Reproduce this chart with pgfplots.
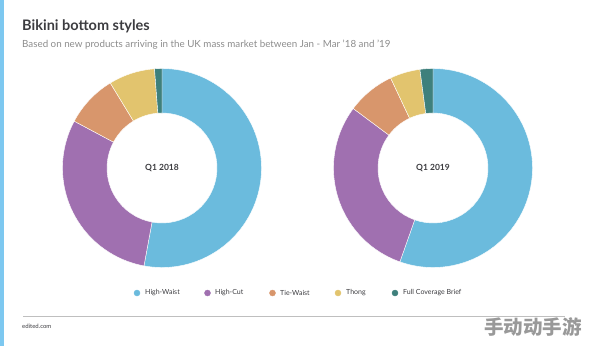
\documentclass[border=0pt]{standalone}
\usepackage{pgfplots}
\pgfplotsset{compat=1.18}
\usepackage{pgfplotstable}
\usepackage{fontspec}
\setmainfont{Lato}
\newfontfamily\cjk{Noto Sans CJK SC}
\definecolor{c0}{RGB}{107,187,221}
\definecolor{c1}{RGB}{160,112,176}
\definecolor{c2}{RGB}{216,150,108}
\definecolor{c3}{RGB}{226,196,110}
\definecolor{c4}{RGB}{62,128,124}
\definecolor{titlegray}{RGB}{60,60,64}
\definecolor{subgray}{RGB}{140,140,140}
\definecolor{sidebar}{RGB}{125,200,240}
\tikzset{legtxt/.style={anchor=west, font=\fontsize{7}{8}\selectfont, text=titlegray, inner sep=0pt}}

% cumulative percentage shares, clockwise from 12 o'clock
\pgfplotstableread{
x y st en c
162 168 0.0 52.9 0
162 168 52.9 82.8 1
162 168 82.8 91.3 2
162 168 91.3 98.8 3
162 168 98.8 100.0 4
}\dataA
\pgfplotstableread{
x y st en c
433 168 0.0 55.4 0
433 168 55.4 85.2 1
433 168 85.2 93.0 2
433 168 93.0 97.9 3
433 168 97.9 100.0 4
}\dataB
% legend dot positions
\pgfplotstableread{
x y c
137 293 0
207.5 293 1
272.5 293 2
338 293 3
395 293 4
}\legdots

\begin{document}
\begin{tikzpicture}
\begin{axis}[
  at={(0,0)}, anchor=south west,
  scale only axis, width=594pt, height=346pt,
  xmin=0, xmax=594, ymin=0, ymax=346, y dir=reverse,
  hide axis, clip=false,
  donut/.style={scatter, only marks, mark=*, mark size=0pt,
    mark options={draw=none,fill=none},
    visualization depends on={\thisrow{st} \as \st},
    visualization depends on={\thisrow{en} \as \en},
    visualization depends on={\thisrow{c} \as \cc},
    scatter/@pre marker code/.code={%
      \pgfmathtruncatemacro\ci{\cc}%
      \fill[c\ci, draw=white, line width=0.4pt] (90-\st*3.6:99.5pt) arc[start angle=90-\st*3.6, end angle=90-\en*3.6, radius=99.5pt]
        -- (90-\en*3.6:55pt) arc[start angle=90-\en*3.6, end angle=90-\st*3.6, radius=55pt] -- cycle;},
    scatter/@post marker code/.code={}},
]
\addplot[donut] table[x=x,y=y] {\dataA};
\addplot[donut] table[x=x,y=y] {\dataB};

\addplot[scatter, only marks, mark=*, mark size=0pt, mark options={draw=none,fill=none},
  visualization depends on={\thisrow{c} \as \cc},
  scatter/@pre marker code/.code={\pgfmathtruncatemacro\ci{\cc}\fill[c\ci] (0,0) circle (3pt);},
  scatter/@post marker code/.code={}] table[x=x,y=y] {\legdots};
\node[legtxt] at (axis cs:145,293) {High-Waist};
\node[legtxt] at (axis cs:215,293) {High-Cut};
\node[legtxt] at (axis cs:280,293) {Tie-Waist};
\node[legtxt] at (axis cs:346,293) {Thong};
\node[legtxt] at (axis cs:403,293) {Full Coverage Brief};

\node[font=\bfseries\fontsize{8.5}{10}\selectfont, text=titlegray] at (axis cs:162,168) {Q1 2018};
\node[font=\bfseries\fontsize{8.5}{10}\selectfont, text=titlegray] at (axis cs:433,168) {Q1 2019};

\node[anchor=west, font=\bfseries\fontsize{14.5}{16}\selectfont, text=titlegray, inner sep=0pt] at (axis cs:22,26) {Bikini bottom styles};
\node[anchor=west, font=\fontsize{9.8}{11}\selectfont, text=subgray, inner sep=0pt] at (axis cs:22,45) {Based on new products arriving in the UK mass market between Jan - Mar '18 and '19};

\fill[sidebar] (axis cs:0,0) rectangle (axis cs:4,346);
\draw[black!25, line width=0.6pt] (axis cs:23,316) -- (axis cs:565,316);
\node[anchor=west, font=\fontsize{6}{7}\selectfont, text=titlegray, inner sep=0pt] at (axis cs:22,326) {edited.com};
\node[anchor=east, font=\cjk\bfseries\fontsize{19.5}{21}\selectfont, text=black!40, inner sep=0pt] at (axis cs:582,327) {手动动手游};
\end{axis}
\pgfresetboundingbox
\path (0,0) rectangle (594pt,346pt);
\end{tikzpicture}
\end{document}
